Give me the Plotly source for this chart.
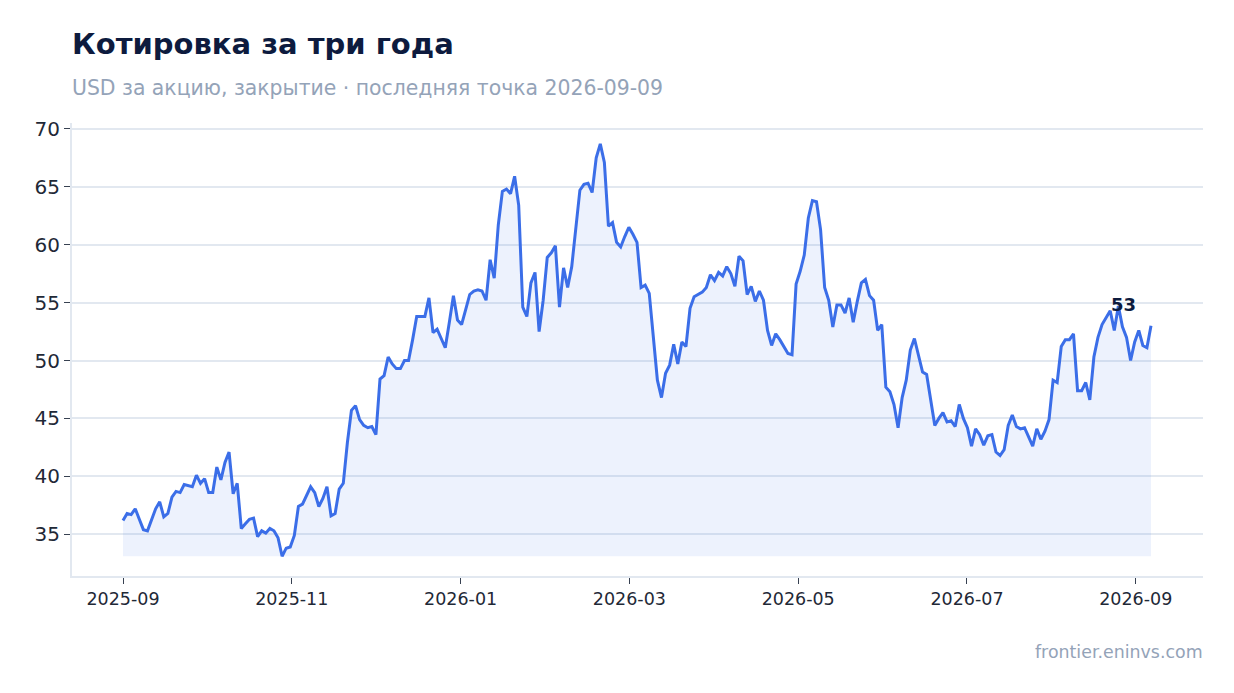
import pandas as pd
import plotly.graph_objects as go

# --- Closing price, USD per share (~every trading day) ---
price = [
    36.2, 36.8, 36.7, 37.2, 36.3, 35.4, 35.3, 36.2, 37.2, 37.8,
    36.5, 36.8, 38.2, 38.7, 38.6, 39.3, 39.2, 39.1, 40.1, 39.4,
    39.8, 38.6, 38.6, 40.8, 39.7, 41.2, 42.1, 38.5, 39.4, 35.5,
    35.9, 36.3, 36.4, 34.8, 35.3, 35.1, 35.5, 35.3, 34.7, 33.1,
    33.8, 33.9, 34.9, 37.4, 37.6, 38.4, 39.1, 38.6, 37.4, 38.1,
    39.1, 36.6, 36.8, 38.9, 39.4, 42.9, 45.7, 46.1, 44.9, 44.4,
    44.2, 44.3, 43.6, 48.4, 48.7, 50.3, 49.7, 49.3, 49.3, 50.0,
    50.0, 51.8, 53.8, 53.8, 53.8, 55.4, 52.4, 52.7, 51.9, 51.1,
    53.3, 55.6, 53.5, 53.1, 54.4, 55.7, 56.0, 56.1, 56.0, 55.2,
    58.7, 57.1, 61.7, 64.6, 64.8, 64.4, 65.9, 63.4, 54.6, 53.8,
    56.7, 57.6, 52.5, 55.2, 58.9, 59.3, 59.9, 54.6, 58.0, 56.3,
    58.1, 61.5, 64.7, 65.2, 65.3, 64.5, 67.5, 68.7, 67.1, 61.6,
    61.9, 60.2, 59.8, 60.7, 61.5, 60.9, 60.2, 56.3, 56.5, 55.8,
    52.0, 48.3, 46.8, 48.9, 49.6, 51.4, 49.7, 51.6, 51.2, 54.5,
    55.5, 55.7, 55.9, 56.3, 57.4, 56.9, 57.6, 57.3, 58.1, 57.5,
    56.4, 59.0, 58.6, 55.7, 56.4, 55.1, 56.0, 55.2, 52.6, 51.3,
    52.3, 51.8, 51.2, 50.6, 50.5, 56.6, 57.7, 59.1, 62.3, 63.8,
    63.7, 61.3, 56.3, 55.2, 52.9, 54.8, 54.8, 54.1, 55.4, 53.3,
    55.1, 56.7, 57.0, 55.6, 55.2, 52.6, 53.1, 47.7, 47.3, 46.2,
    44.2, 46.8, 48.3, 50.9, 51.9, 50.5, 49.0, 48.8, 46.4, 44.4,
    45.0, 45.5, 44.7, 44.8, 44.3, 46.2, 45.0, 44.2, 42.6, 44.1,
    43.6, 42.7, 43.5, 43.6, 42.1, 41.8, 42.3, 44.4, 45.3, 44.3,
    44.1, 44.2, 43.4, 42.6, 44.1, 43.2, 43.9, 44.9, 48.3, 48.1,
    51.2, 51.8, 51.8, 52.3, 47.4, 47.4, 48.1, 46.6, 50.3, 52.0,
    53.1, 53.7, 54.3, 52.6, 54.7, 52.9, 52.0, 50.0, 51.6, 52.6,
    51.3, 51.1, 53.0,
]

first_day = "2025-09-01"
last_day = "2026-09-07 12:00"
dates = pd.date_range(first_day, last_day, periods=len(price))

y_ticks = [35, 40, 45, 50, 55, 60, 65, 70]
x_tick_step_days = 61

blue = "#3b6ee8"
navy = "#0d1b3e"
muted = "#94a3b8"
grid = "#e2e8f0"
ink = "#1f2937"

fig = go.Figure()

# baseline at the lowest close, so the shaded area sits on it
fig.add_trace(go.Scatter(
    x=dates, y=[min(price)] * len(price),
    mode="lines", line=dict(width=0, color="rgba(0,0,0,0)"),
    hoverinfo="skip", showlegend=False,
))

fig.add_trace(go.Scatter(
    x=dates, y=price,
    mode="lines",
    line=dict(color=blue, width=3),
    fill="tonexty",
    fillcolor="rgba(59,110,232,0.09)",
    name="Закрытие",
    showlegend=False,
))

# last value label
fig.add_annotation(
    x=dates[-1], y=price[-1],
    text=f"<b>{price[-1]:.0f}</b>",
    showarrow=False,
    xanchor="right", yanchor="bottom",
    xshift=-13, yshift=9,
    font=dict(size=18, color=navy, family="DejaVu Sans"),
)

# title, subtitle, source
fig.add_annotation(
    xref="paper", yref="paper", x=0, y=1.174, xshift=-2,
    xanchor="left", yanchor="middle",
    text="<b>Котировка за три года</b>", showarrow=False,
    font=dict(size=29, color=navy, family="DejaVu Sans"),
)
fig.add_annotation(
    xref="paper", yref="paper", x=0, y=1.077, xshift=-2,
    xanchor="left", yanchor="middle",
    text="USD за акцию, закрытие · последняя точка 2026-09-09", showarrow=False,
    font=dict(size=20.4, color=muted, family="DejaVu Sans"),
)
fig.add_annotation(
    xref="paper", yref="paper", x=1, y=-0.168, xshift=2,
    xanchor="right", yanchor="middle",
    text="frontier.eninvs.com", showarrow=False,
    font=dict(size=17.4, color=muted, family="DejaVu Sans"),
)

fig.update_layout(
    width=1234, height=693,
    margin=dict(l=64, r=39, t=115, b=125),
    paper_bgcolor="white",
    plot_bgcolor="white",
    font=dict(family="DejaVu Sans", color=ink),
    hovermode="x unified",
)

fig.update_xaxes(
    range=["2025-08-13 13:40", "2026-09-26 07:00"],
    tick0=first_day, dtick=x_tick_step_days * 86400000, tickformat="%Y-%m",
    ticks="outside", ticklen=6, tickcolor="#374151",
    tickfont=dict(size=17.5, color=ink),
    showgrid=False,
    showline=True, linecolor=grid, linewidth=2,
)

fig.update_yaxes(
    range=[31.4, 70.5],
    tickvals=y_ticks,
    ticks="outside", ticklen=6, tickcolor="#374151",
    tickfont=dict(size=20, color=ink),
    showgrid=True, gridcolor=grid, gridwidth=2,
    zeroline=False,
    showline=True, linecolor=grid, linewidth=2,
)

fig.write_html("out.html")
